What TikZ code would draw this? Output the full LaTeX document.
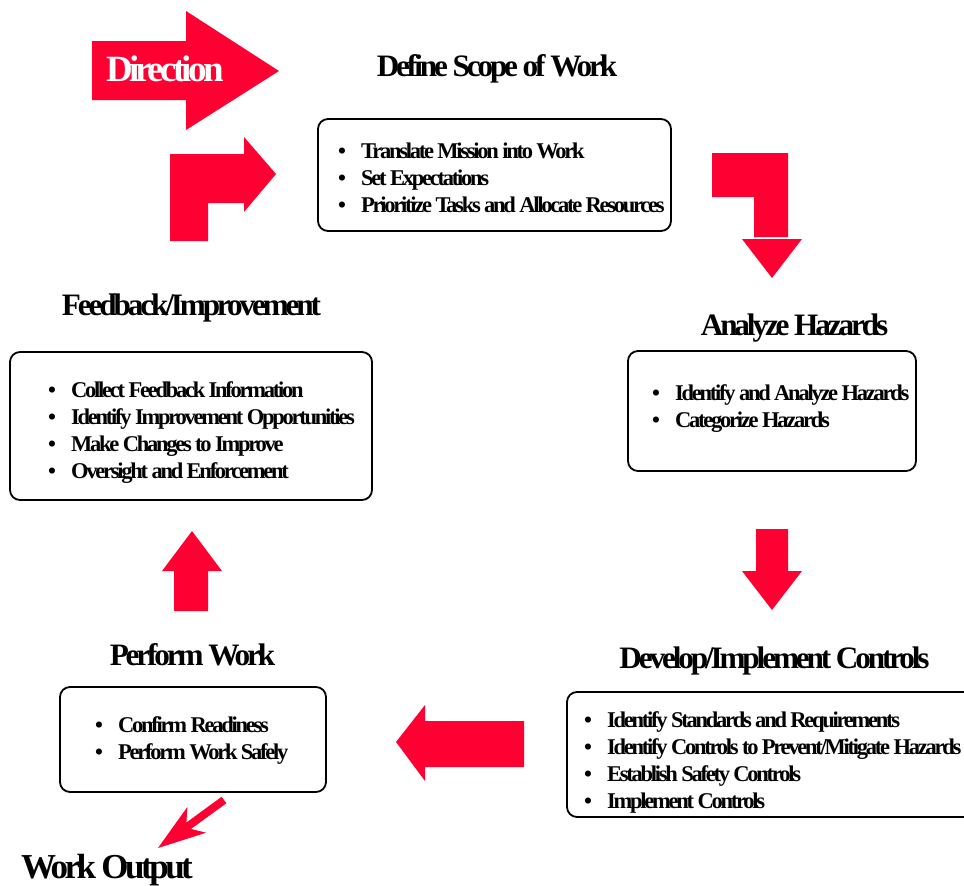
\documentclass[tikz,border=0pt]{standalone}
\usepackage{fontspec}
\setmainfont{Liberation Serif}
\newfontfamily\tightserif[LetterSpace=-10]{Liberation Serif}
\definecolor{flowred}{RGB}{255,0,51}
% one bulleted line: fixed-width bullet column, then the item
\newcommand\bitem[1]{\makebox[23pt][l]{\textbullet}#1}
\newcommand\blist[1]{\begin{tabular}[t]{@{}l@{}}#1\end{tabular}}
\begin{document}
\begin{tikzpicture}[x=1pt,y=-1pt,
  panel/.style={draw=black, line width=1.8pt, rounded corners=10pt, fill=white},
  blockarrow/.style={fill=flowred, draw=none},
  heading/.style={font=\tightserif\bfseries\fontsize{31.2}{36}\selectfont, inner sep=0pt, anchor=base},
  items/.style={font=\tightserif\bfseries\fontsize{22.5}{27.3}\selectfont, inner sep=0pt, anchor=base west},
]
\useasboundingbox (0,0) rectangle (964,886);
\clip (0,0) rectangle (964,886);

% ---- boxes ----
\node[panel, minimum width=353pt, minimum height=112pt] (scope) at (494.5,175) {};
\node[panel, minimum width=288pt, minimum height=120pt] (hazards) at (772,411) {};
\node[panel, minimum width=362pt, minimum height=148pt] (feedback) at (191,426) {};
\node[panel, minimum width=408pt, minimum height=125pt] (controls) at (771,754.5) {};
\node[panel, minimum width=266pt, minimum height=105pt] (perform) at (193,739.5) {};

% ---- headings ----
\node[heading] (scopeT) at (497,76) {Define Scope of Work};
\node[heading] (hazardsT) at (794.5,335) {Analyze Hazards};
\node[heading] (feedbackT) at (191.5,315) {Feedback/Improvement};
\node[heading] (controlsT) at (774.5,668) {Develop/Implement Controls};
\node[heading] (performT) at (192.5,665) {Perform Work};
\node[heading, font=\tightserif\bfseries\fontsize{35}{40}\selectfont] (output) at (107,878) {Work Output};

% ---- bullet lists ----
\node[items] (scopeL) at (338,158) {\blist{\bitem{Translate Mission into Work}\\
  \bitem{Set Expectations}\\ \bitem{Prioritize Tasks and Allocate Resources}}};
\node[items] (hazardsL) at (652,400) {\blist{\bitem{Identify and Analyze Hazards}\\
  \bitem{Categorize Hazards}}};
\node[items] (feedbackL) at (48,397) {\blist{\bitem{Collect Feedback Information}\\
  \bitem{Identify Improvement Opportunities}\\ \bitem{Make Changes to Improve}\\
  \bitem{Oversight and Enforcement}}};
\node[items] (controlsL) at (584,727) {\blist{\bitem{Identify Standards and Requirements}\\
  \bitem{Identify Controls to Prevent/Mitigate Hazards}\\ \bitem{Establish Safety Controls}\\
  \bitem{Implement Controls}}};
\node[items] (performL) at (95,732) {\blist{\bitem{Confirm Readiness}\\
  \bitem{Perform Work Safely}}};

% ---- block arrows ----
% Direction
\fill[blockarrow] (92,41) -- (186,41) -- (186,11) -- (279,71) -- (186,130) -- (186,100) -- (92,100) -- cycle;
\node[font=\tightserif\bfseries\fontsize{37}{40}\selectfont, text=white, inner sep=0pt, anchor=base] (direction) at (165,81) {Direction};
% feedback loop back into scope
\fill[blockarrow] (170,241) -- (170,154) -- (244,154) -- (244,137) -- (276,174) -- (244,212) -- (244,203) -- (208,203) -- (208,241) -- cycle;
% scope to hazards
\fill[blockarrow] (712,153) -- (788,153) -- (788,237) -- (754,237) -- (754,197) -- (712,197) -- cycle;
\fill[blockarrow] (742,239) -- (802,239) -- (772,278) -- cycle;
% hazards to controls
\fill[blockarrow] (756,529) -- (788,529) -- (788,571) -- (802,571) -- (772,610) -- (742,571) -- (756,571) -- cycle;
% controls to perform
\fill[blockarrow] (524,721) -- (425,721) -- (425,705) -- (396,742) -- (425,781) -- (425,767) -- (524,767) -- cycle;
% perform to feedback
\fill[blockarrow] (174,611) -- (174,571) -- (162,571) -- (192,531) -- (222,571) -- (208,571) -- (208,611) -- cycle;
% perform to work output
\fill[blockarrow] (158,848) -- (187.4,806.9) -- (186.4,822.5) -- (221.6,796.8) -- (226.4,803.2) -- (191.1,828.9) -- (206.2,832.7) -- cycle;
\end{tikzpicture}
\end{document}
